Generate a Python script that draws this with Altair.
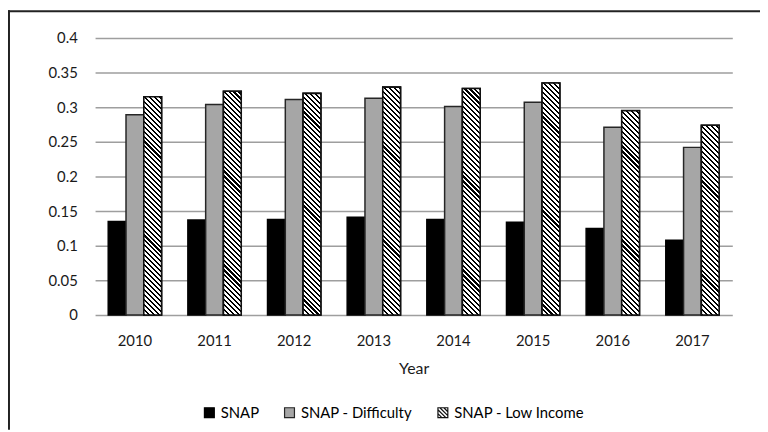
import altair as alt
import pandas as pd

years = ["2010", "2011", "2012", "2013", "2014", "2015", "2016", "2017"]
series = ["SNAP", "SNAP - Difficulty", "SNAP - Low Income"]
snap = [0.135, 0.137, 0.138, 0.141, 0.138, 0.134, 0.125, 0.108]
difficulty = [0.289, 0.304, 0.311, 0.313, 0.301, 0.307, 0.271, 0.242]
low_income = [0.315, 0.323, 0.320, 0.329, 0.327, 0.335, 0.295, 0.274]
y_ticks = [0, 0.05, 0.1, 0.15, 0.2, 0.25, 0.3, 0.35, 0.4]

rows = []
for i, yr in enumerate(years):
    rows.append({"Year": yr, "Series": series[0], "Value": snap[i]})
    rows.append({"Year": yr, "Series": series[1], "Value": difficulty[i]})
    rows.append({"Year": yr, "Series": series[2], "Value": low_income[i]})
df = pd.DataFrame(rows)

# geometry
W, H = 644, 280
Y_MAX = 0.4
PAD_IN = 0.33
PAD_OUT = 0.165
STEP = W / (len(years) - PAD_IN + 2 * PAD_OUT)
BAR_W = STEP * (1 - PAD_IN) / 3
FONT = "Lato"
INK = "#1a1a1a"


def hatch(w, h, period=5.0, frac=0.42):
    """Diagonal '\\' stripes as a bbox-unit linear gradient."""
    k = (w + h) / (w * w + h * h)
    n = (w + h) / period
    stops = []
    i = 0
    while i / n < 1:
        a = i / n
        b = min((i + frac) / n, 1)
        c = min((i + 1) / n, 1)
        stops += [
            {"offset": a, "color": "#000000"},
            {"offset": b, "color": "#000000"},
            {"offset": b, "color": "#ffffff"},
            {"offset": c, "color": "#ffffff"},
        ]
        i += 1
    return {"gradient": "linear", "x1": 0, "y1": 1, "x2": k * w, "y2": 1 - k * h, "stops": stops}


def hatch_symbol(step=0.8):
    """Square outline plus '\\' diagonals, in the unit [-1, 1] symbol box."""
    parts = ["M-1,-1H1V1H-1Z"]
    c = -2 + step
    while c < 2 - 1e-9:
        if c >= 0:
            parts.append(f"M{c - 1:.3f},-1L1,{1 - c:.3f}")
        else:
            parts.append(f"M-1,{-1 - c:.3f}L{1 + c:.3f},1")
        c += step
    return "".join(parts)


x_enc = alt.X(
    "Year:O",
    scale=alt.Scale(paddingInner=PAD_IN, paddingOuter=PAD_OUT),
    axis=alt.Axis(title="Year", labelAngle=0, ticks=False, domain=False, labelPadding=19,
                  titlePadding=12, labelFontSize=15, titleFontSize=16, titleFontWeight="normal"),
)
xo_enc = alt.XOffset("Series:N", scale=alt.Scale(domain=series, paddingInner=0, paddingOuter=0))
y_enc = alt.Y(
    "Value:Q",
    scale=alt.Scale(domain=[0, Y_MAX]),
    axis=alt.Axis(title=None, values=y_ticks, format="~g", ticks=False, domain=False,
                  labelPadding=18, labelFontSize=15, grid=True, labelOverlap=False),
)

legend = alt.Legend(
    title=None, orient="none", legendX=108, legendY=371, direction="horizontal",
    symbolSize=100, symbolStrokeWidth=1.2,
    symbolOpacity=1, labelFont=FONT, labelFontSize=15, labelColor="#000000",
    columnPadding=23, labelOffset=4,
)
fill_scale = alt.Scale(domain=series, range=["#000000", "#a6a6a6", "#ffffff"])
stroke_scale = alt.Scale(domain=series, range=["#000000", "#262626", "#111111"])
shape_scale = alt.Scale(domain=series, range=["square", "square", hatch_symbol()])

bars = alt.Chart(df).mark_bar(strokeWidth=1.5).encode(
    x=x_enc,
    xOffset=xo_enc,
    y=y_enc,
    fill=alt.Fill("Series:N", scale=fill_scale, legend=legend),
    stroke=alt.Stroke("Series:N", scale=stroke_scale, legend=legend),
)

# invisible points that only carry the per-series legend symbol shapes
legend_points = alt.Chart(df).mark_point(filled=True, opacity=0).encode(
    x=x_enc, xOffset=xo_enc, y=y_enc,
    fill=alt.Fill("Series:N", scale=fill_scale, legend=legend),
    stroke=alt.Stroke("Series:N", scale=stroke_scale, legend=legend),
    shape=alt.Shape("Series:N", scale=shape_scale, legend=legend),
)

hatch_layers = []
for i, yr in enumerate(years):
    h = low_income[i] * H / Y_MAX
    layer = alt.Chart(df).transform_filter(
        f"datum.Series === 'SNAP - Low Income' && datum.Year === '{yr}'"
    ).mark_bar(fill=hatch(BAR_W, h), stroke="#111111", strokeWidth=1.6).encode(
        x=x_enc, xOffset=xo_enc, y=y_enc
    )
    hatch_layers.append(layer)

one = pd.DataFrame({"v": [0]})
frame_top = alt.Chart(one).mark_rule(color="#222222", strokeWidth=2).encode(
    x=alt.value(-88), x2=alt.value(672), y=alt.value(-27)
)
frame_left = alt.Chart(one).mark_rule(color="#222222", strokeWidth=2).encode(
    x=alt.value(-87), y=alt.value(-28), y2=alt.value(396)
)

chart = alt.layer(bars, legend_points, *hatch_layers, frame_top, frame_left).properties(
    width=W, height=H,
    autosize=alt.AutoSizeParams(type="none"),
    padding={"left": 88, "top": 28, "right": 28, "bottom": 116},
    background="#ffffff",
).configure_view(stroke=None).configure_axis(
    labelFont=FONT, titleFont=FONT, labelColor=INK, titleColor=INK,
    gridColor="#9e9e9e", gridWidth=1.5,
)

chart.save("out.html", embed_options={"renderer": "svg", "actions": False})
